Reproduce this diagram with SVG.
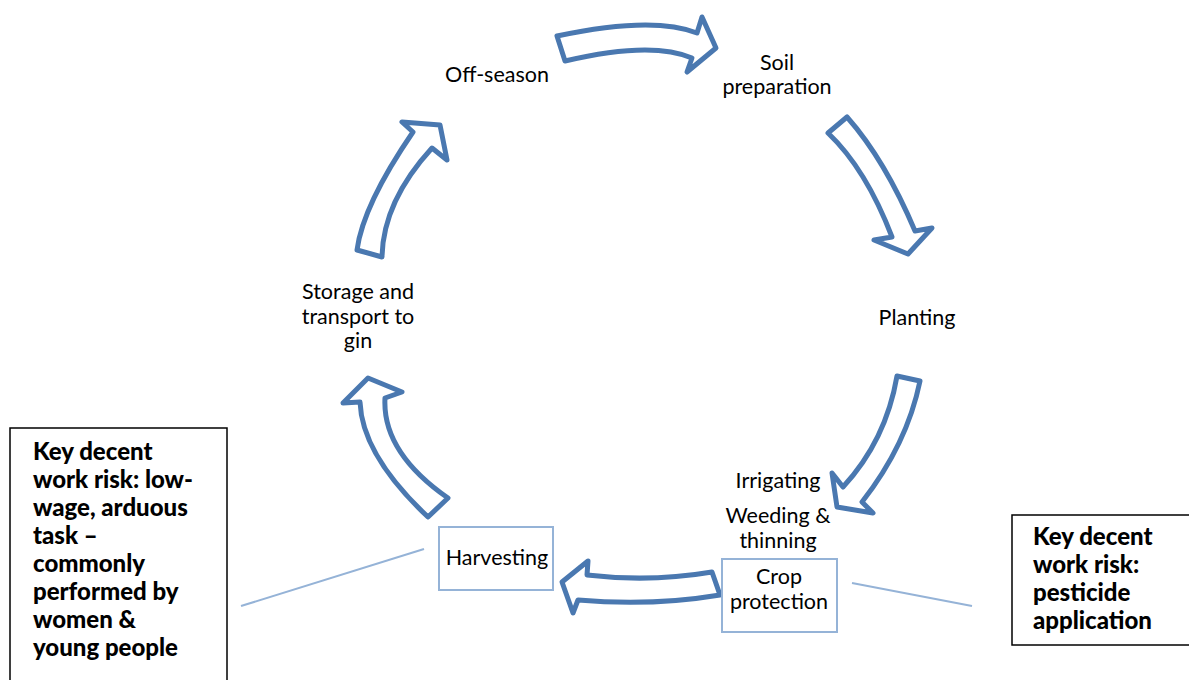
<svg xmlns="http://www.w3.org/2000/svg" width="1189" height="680" viewBox="0 0 1189 680">
<style>
.arrow{fill:#fff;stroke:#4a78b0;stroke-width:5;stroke-linejoin:round}
.lbl{font-family:Lato,"Open Sans",sans-serif;font-size:21.5px;fill:#000;text-anchor:middle}
.key{font-family:Lato,"Open Sans",sans-serif;font-size:24px;font-weight:900;fill:#000}
.box{fill:#fff;stroke:#95b3d7;stroke-width:2}
.kbox{fill:#fff;stroke:#000;stroke-width:1.5}
.ln{stroke:#95b3d7;stroke-width:2;fill:none}
</style>
<rect width="1189" height="680" fill="#fff"/>
<g id="connectors">
<path class="arrow" d="M557,36 Q653,15.5 697,33 L702,17 L716,48 L687,72 L692,58 Q651.5,40.5 565,61 Z"/>
<path class="arrow" d="M828,133 L847,117 Q885,160 915,231 L932,228 L908,254 L874,240 L892,237 Q866,169 828,133 Z"/>
<path class="arrow" d="M897,376 L920,381 Q907,444.5 862,502 L873,513 L837,507 L832,473 L843,487 Q886,440.5 897,376 Z"/>
<path class="arrow" d="M712,572 Q650.5,582.5 587,575 L588,561 L562,582 L573,613 L578,600 Q651,606.5 720,595 Z"/>
<path class="arrow" d="M368,378 L402,392 L385,398 Q382,452 448,498 L428,517 Q362,455 360,402 L343,403 Z"/>
<path class="arrow" d="M357,250 Q363,205 413,132 L402,122 L440,125 L447,160 L432,148 Q383,201.5 382,257 Z"/>
<line class="ln" x1="241" y1="606" x2="424" y2="549"/>
<line class="ln" x1="852" y1="583" x2="972" y2="606"/>
</g>
<g id="off-season"><text class="lbl" x="497" y="82">Off-season</text></g>
<g id="soil-preparation"><text class="lbl" x="777" y="70">Soil</text><text class="lbl" x="777" y="94">preparation</text></g>
<g id="planting"><text class="lbl" x="917" y="325">Planting</text></g>
<g id="irrigating"><text class="lbl" x="778" y="488">Irrigating</text></g>
<g id="weeding"><text class="lbl" x="778" y="523">Weeding &amp;</text><text class="lbl" x="778" y="548">thinning</text></g>
<g id="crop-protection"><rect class="box" x="722" y="559" width="115" height="73"/><text class="lbl" x="779" y="584">Crop</text><text class="lbl" x="779" y="609">protection</text></g>
<g id="harvesting"><rect class="box" x="439" y="527" width="114" height="63"/><text class="lbl" x="497" y="565">Harvesting</text></g>
<g id="storage"><text class="lbl" x="358" y="299">Storage and</text><text class="lbl" x="358" y="324">transport to</text><text class="lbl" x="358" y="348">gin</text></g>
<g id="risk-left"><rect class="kbox" x="10" y="428" width="217" height="262"/>
<text class="key" x="33" y="460">Key decent</text>
<text class="key" x="33" y="488">work risk: low-</text>
<text class="key" x="33" y="516">wage, arduous</text>
<text class="key" x="33" y="544">task –</text>
<text class="key" x="33" y="572">commonly</text>
<text class="key" x="33" y="600">performed by</text>
<text class="key" x="33" y="628">women &amp;</text>
<text class="key" x="33" y="656">young people</text></g>
<g id="risk-right"><rect class="kbox" x="1012" y="515" width="190" height="130"/>
<text class="key" x="1033" y="545">Key decent</text>
<text class="key" x="1033" y="573">work risk:</text>
<text class="key" x="1033" y="601">pesticide</text>
<text class="key" x="1033" y="629">application</text></g>
</svg>
